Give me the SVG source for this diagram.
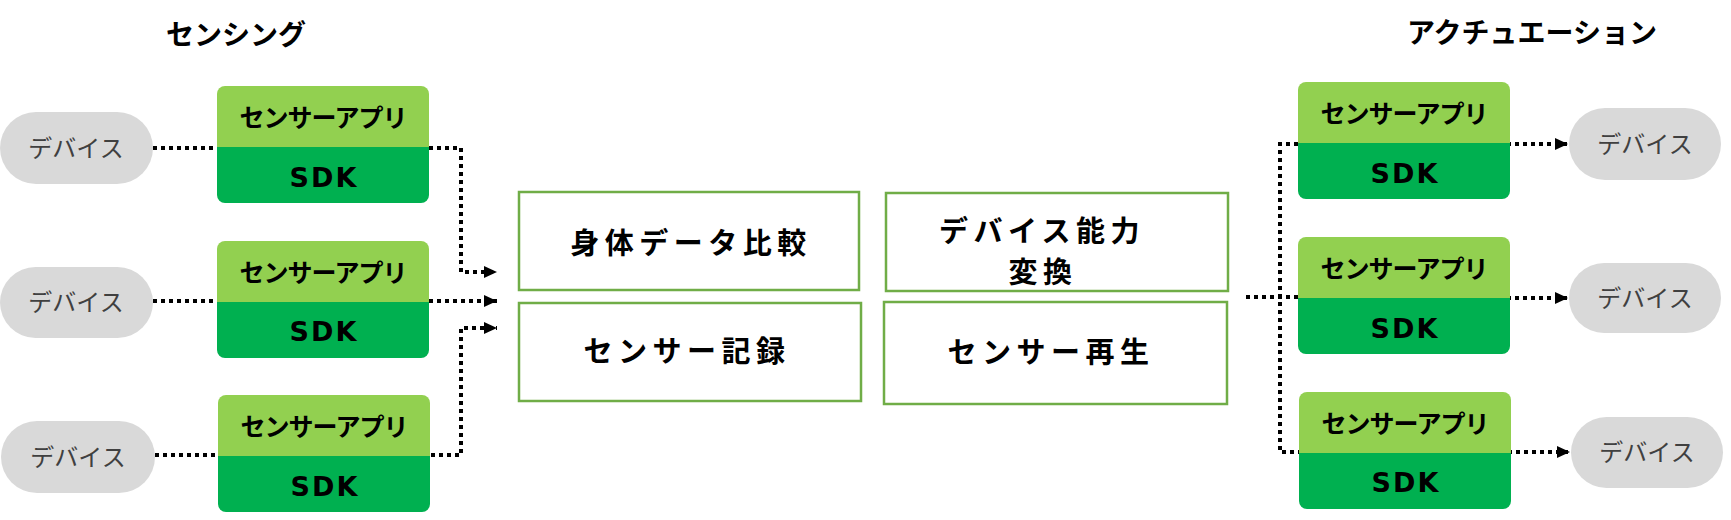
<svg xmlns="http://www.w3.org/2000/svg" width="1731" height="520" viewBox="0 0 1731 520">
<style>
.title{font-family:"Noto Sans CJK JP","Noto Sans",sans-serif;font-weight:bold;font-size:28px;fill:#000;text-anchor:middle}
.dev rect{fill:#D9D9D9}
.dev text{font-family:"Noto Sans CJK JP","Noto Sans",sans-serif;font-size:24px;fill:#404040;text-anchor:middle}
.top{fill:#92D050}
.bot{fill:#00B050}
.app{font-family:"Noto Sans CJK JP","Noto Sans",sans-serif;font-weight:bold;font-size:25px;fill:#000;text-anchor:middle;letter-spacing:-1px}
.sdk{font-family:"DejaVu Sans",Verdana,sans-serif;font-weight:bold;font-size:27px;fill:#000;text-anchor:middle;letter-spacing:2px}
.fn rect{fill:#fff;stroke:#70AD47;stroke-width:2.5}
.fn text{font-family:"Noto Sans CJK JP","Noto Sans",sans-serif;font-weight:bold;font-size:29px;fill:#000;text-anchor:middle;letter-spacing:5.5px}
.con path{fill:none;stroke:#000;stroke-width:4;stroke-dasharray:4 4}
.arr{marker-end:url(#ah)}
</style>
<defs>
<marker id="ah" markerUnits="userSpaceOnUse" markerWidth="14" markerHeight="12" refX="13" refY="6" orient="auto">
<path d="M0,0 L13,6 L0,12 Z" fill="#000"/>
</marker>
<g id="appshape">
<path class="bot" d="M0,60 H212 V109 a8,8 0 0 1 -8,8 H8 a8,8 0 0 1 -8,-8 Z"/>
<path class="top" d="M0,61 V8 a8,8 0 0 1 8,-8 H204 a8,8 0 0 1 8,8 V61 Z"/>
</g>
</defs>
<rect width="1731" height="520" fill="#fff"/>

<text class="title" x="236" y="45">センシング</text>
<text class="title" x="1532" y="43">アクチュエーション</text>

<g class="con">
<path d="M153,148 H217"/>
<path class="arr" d="M429,148 H461 V272 H497"/>
<path d="M153,301 H217"/>
<path class="arr" d="M429,301 H497"/>
<path d="M155,455 H218"/>
<path class="arr" d="M431,455 H461 V328 H497"/>
<path d="M1246,297 H1298"/>
<path d="M1298,144 H1280 V452 H1299"/>
<path class="arr" d="M1507,144 H1568"/>
<path class="arr" d="M1507,298 H1568"/>
<path class="arr" d="M1508,452 H1570"/>
</g>

<g id="dev-l1" class="dev"><rect x="0" y="112" width="153" height="72" rx="36"/><text x="76" y="157">デバイス</text></g>
<g id="dev-l2" class="dev"><rect x="0" y="267" width="153" height="71" rx="35.5"/><text x="76" y="311">デバイス</text></g>
<g id="dev-l3" class="dev"><rect x="1" y="421" width="154" height="72" rx="36"/><text x="78" y="466">デバイス</text></g>

<g id="app-l1"><use href="#appshape" x="217" y="86"/><text class="app" x="323" y="127">センサーアプリ</text><text class="sdk" x="324" y="187">SDK</text></g>
<g id="app-l2"><use href="#appshape" x="217" y="241"/><text class="app" x="323" y="282">センサーアプリ</text><text class="sdk" x="324" y="341">SDK</text></g>
<g id="app-l3"><use href="#appshape" x="218" y="395"/><text class="app" x="324" y="436">センサーアプリ</text><text class="sdk" x="325" y="496">SDK</text></g>

<g id="fn-compare" class="fn"><rect x="519" y="192" width="340" height="98"/><text x="691" y="254">身体データ比較</text></g>
<g id="fn-record" class="fn"><rect x="519" y="303" width="342" height="98"/><text x="687" y="362">センサー記録</text></g>
<g id="fn-convert" class="fn"><rect x="886" y="193" width="342" height="98"/><text x="1042" y="242">デバイス能力</text><text x="1043" y="283">変換</text></g>
<g id="fn-play" class="fn"><rect x="884" y="302" width="343" height="102"/><text x="1051" y="363">センサー再生</text></g>

<g id="app-r1"><use href="#appshape" x="1298" y="82"/><text class="app" x="1404" y="123">センサーアプリ</text><text class="sdk" x="1405" y="183">SDK</text></g>
<g id="app-r2"><use href="#appshape" x="1298" y="237"/><text class="app" x="1404" y="278">センサーアプリ</text><text class="sdk" x="1405" y="338">SDK</text></g>
<g id="app-r3"><use href="#appshape" x="1299" y="392"/><text class="app" x="1405" y="433">センサーアプリ</text><text class="sdk" x="1406" y="492">SDK</text></g>

<g id="dev-r1" class="dev"><rect x="1569" y="108" width="152" height="72" rx="36"/><text x="1645" y="153">デバイス</text></g>
<g id="dev-r2" class="dev"><rect x="1569" y="263" width="152" height="70" rx="35"/><text x="1645" y="307">デバイス</text></g>
<g id="dev-r3" class="dev"><rect x="1571" y="417" width="152" height="71" rx="35.5"/><text x="1647" y="461">デバイス</text></g>
</svg>
